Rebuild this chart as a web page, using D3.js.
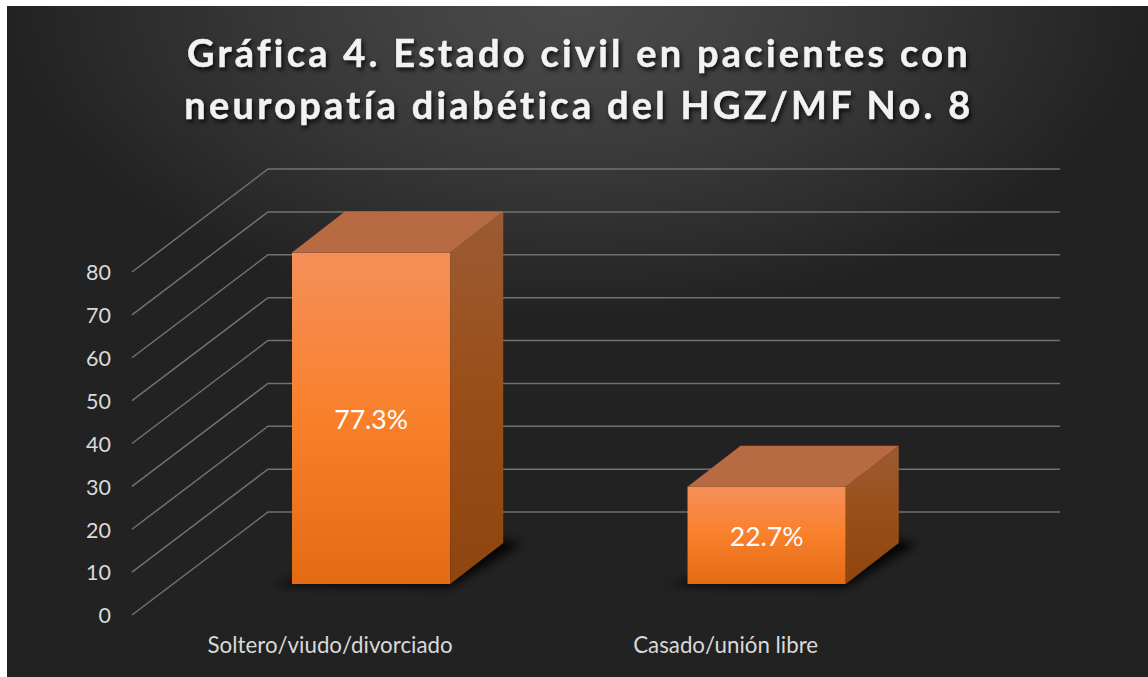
<!DOCTYPE html>
<html><head><meta charset="utf-8">
<script src="https://cdnjs.cloudflare.com/ajax/libs/d3/7.8.5/d3.min.js"></script>
<style>
html,body{margin:0;padding:0;background:#fff;overflow:hidden}
svg{display:block;font-family:Lato,"Open Sans",sans-serif}
</style></head><body>
<svg id="c" width="1148" height="677"></svg>
<script>
const titleLines = ["Gráfica 4. Estado civil en pacientes con", "neuropatía diabética del HGZ/MF No. 8"];
const categories = ["Soltero/viudo/divorciado", "Casado/unión libre"];
const values = [77.3, 22.7];
const valueLabels = ["77.3%", "22.7%"];
const ticks = [0, 10, 20, 30, 40, 50, 60, 70, 80];

const W = 1148, H = 677;
const svg = d3.select("#c");
const defs = svg.append("defs");

// background gradient
const bg = defs.append("radialGradient").attr("id","bg").attr("gradientUnits","userSpaceOnUse")
  .attr("cx",0).attr("cy",0).attr("r",1)
  .attr("gradientTransform","translate(577,6) scale(570,310)");
[[0,"#4a4a4a"],[0.25,"#434343"],[0.5,"#393939"],[0.75,"#2e2e2e"],[1,"#222222"]]
  .forEach(s=>bg.append("stop").attr("offset",s[0]).attr("stop-color",s[1]));

const front = defs.append("linearGradient").attr("id","front").attr("x1",0).attr("y1",0).attr("x2",0).attr("y2",1);
[[0,"#f58f58"],[0.5,"#f9802b"],[1,"#e56a14"]]
  .forEach(s=>front.append("stop").attr("offset",s[0]).attr("stop-color",s[1]));
const side = defs.append("linearGradient").attr("id","side").attr("x1",0).attr("y1",0).attr("x2",0).attr("y2",1);
[[0,"#9c5b35"],[0.5,"#9a4e17"],[1,"#8f450f"]]
  .forEach(s=>side.append("stop").attr("offset",s[0]).attr("stop-color",s[1]));
defs.append("filter").attr("id","blur").attr("x","-20%").attr("y","-50%").attr("width","140%").attr("height","200%")
  .append("feGaussianBlur").attr("stdDeviation",5);

svg.append("rect").attr("x",7).attr("y",6).attr("width",W-7).attr("height",H-6).attr("fill","#222222");
svg.append("rect").attr("x",7).attr("y",6).attr("width",W-7).attr("height",H-6).attr("fill","url(#bg)");

// wall geometry
const wallLeft = 132, wallBack = 268, wallRight = 1060, wallDy = 103;
const y = d3.scaleLinear().domain([0,80]).range([615,272]);

const grid = svg.append("g").attr("fill","none").attr("stroke","#717171").attr("stroke-width",1.5);
grid.selectAll("path").data(ticks).join("path")
  .attr("d", d => {
    const p = d3.path();
    p.moveTo(wallLeft, y(d));
    p.lineTo(wallBack, y(d)-wallDy);
    p.lineTo(wallRight, y(d)-wallDy);
    return p.toString();
  });

// y axis labels
const axis = svg.append("g").attr("transform","translate(111,0)")
  .call(d3.axisLeft(y).tickValues(ticks).tickSize(0).tickPadding(0));
axis.select(".domain").remove();
axis.selectAll("text").attr("fill","#d9d9d9").attr("font-size",21.5).attr("font-family","Lato,sans-serif").attr("dy","0.36em");

// bars
const baseY = 584, depthX = 53, depthY = 41;
const x = d3.scaleBand().domain(categories).range([94.25,1043.5]).paddingInner(0.6).paddingOuter(0.5);
const bh = d3.scaleLinear().domain([0,80]).range([0,343]);
const pts = a => a.map(p=>p.join(",")).join(" ");

const bars = svg.append("g").selectAll("g").data(categories.map((c,i)=>({c,v:values[i],l:valueLabels[i]}))).join("g");
bars.append("polygon").attr("fill","#000").attr("opacity",0.85).attr("filter","url(#blur)")
  .attr("points", d => { const a=x(d.c), b=a+x.bandwidth();
    return pts([[a-20,baseY+1],[b,baseY+3],[b+depthX+18,baseY-depthY+1],[b+depthX-10,baseY-depthY-6],[a,baseY-4]]); });
bars.append("rect").attr("fill","url(#front)")
  .attr("x",d=>x(d.c)).attr("width",x.bandwidth())
  .attr("y",d=>baseY-bh(d.v)).attr("height",d=>bh(d.v));
bars.append("polygon").attr("fill","url(#side)")
  .attr("points", d => { const b=x(d.c)+x.bandwidth(), t=baseY-bh(d.v);
    return pts([[b,t],[b+depthX,t-depthY],[b+depthX,baseY-depthY],[b,baseY]]); });
bars.append("polygon").attr("fill","#b86b42")
  .attr("points", d => { const a=x(d.c), b=a+x.bandwidth(), t=baseY-bh(d.v);
    return pts([[a,t],[a+depthX,t-depthY],[b+depthX,t-depthY],[b,t]]); });
bars.append("text").text(d=>d.l).attr("fill","#fff").attr("font-size",26.5).attr("text-anchor","middle")
  .attr("x",d=>x(d.c)+x.bandwidth()/2).attr("y",d=>baseY-bh(d.v)/2+1).attr("dy","0.36em");

// category labels
svg.append("g").selectAll("text").data(categories).join("text").text(d=>d)
  .attr("fill","#d9d9d9").attr("font-size",22.3).attr("text-anchor","middle")
  .attr("x",d=>x(d)+x.bandwidth()/2-41).attr("y",653);

// title
svg.append("g").selectAll("text").data(titleLines).join("text").text(d=>d)
  .attr("fill","#f2f2f2").attr("stroke","#f2f2f2").attr("stroke-width",0.5)
  .attr("font-weight",700).attr("font-size",38).attr("letter-spacing",3.25)
  .attr("text-anchor","middle").attr("x",579).attr("y",(d,i)=>67+i*52)
  .style("filter","drop-shadow(2px 3px 2px rgba(0,0,0,0.75))");
</script>
</body></html>
